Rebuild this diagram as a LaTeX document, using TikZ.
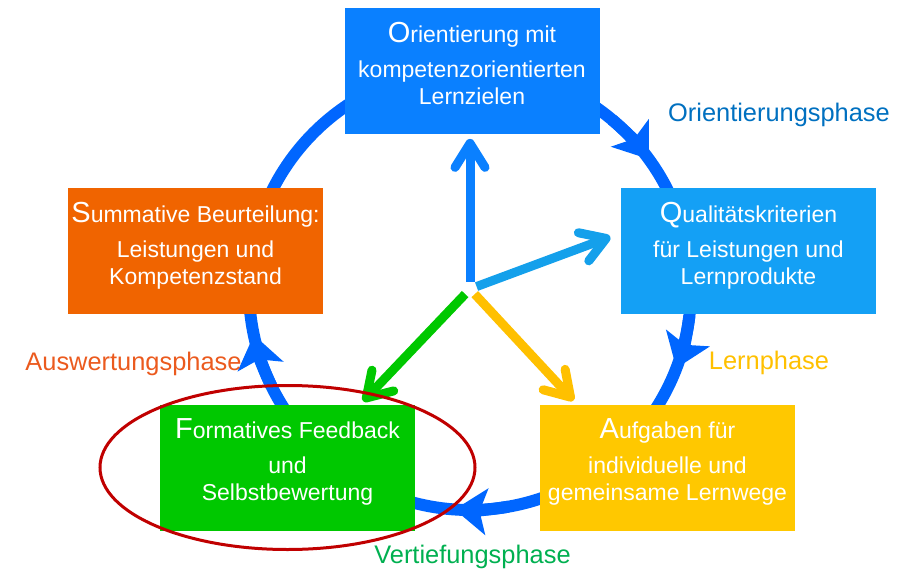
\documentclass[tikz,border=0pt]{standalone}
\usepackage{fontspec}
\setmainfont{Liberation Sans}
\usetikzlibrary{arrows.meta}
\definecolor{ringblue}{RGB}{0,102,255}
\definecolor{oblue}{RGB}{10,128,255}
\definecolor{qblue}{RGB}{20,160,245}
\definecolor{sorange}{RGB}{240,100,0}
\definecolor{ayellow}{RGB}{255,200,0}
\definecolor{fgreen}{RGB}{0,200,0}
\definecolor{spyellow}{RGB}{255,192,0}
\definecolor{spblue}{RGB}{20,160,235}
\definecolor{hired}{RGB}{192,0,0}
\definecolor{txblue}{RGB}{0,112,192}
\definecolor{txgreen}{RGB}{0,176,80}
\definecolor{txorange}{RGB}{235,90,30}
\newcommand{\bigfirst}[1]{{\fontsize{14.5}{14.5}\selectfont #1}}
\tikzset{%
  box/.style = {rectangle,fill=#1,text=white,align=center,
        minimum width=127.5pt,minimum height=63pt,inner sep=0pt,
        text depth=8pt,font=\fontsize{11.5}{13.5}\selectfont},
  ring/.style = {draw=ringblue,line width=6pt},
  ringtip/.style = {-{Stealth[length=16pt,width=23pt,inset=3.5pt]}},
  spoke/.style = {draw=#1,line width=4.5pt,
        -{Straight Barb[length=12pt,width=15pt,round]},
        shorten <=3.5pt},
  phase/.style = {text=#1,anchor=base,inner sep=0pt,
        font=\fontsize{12.7}{15}\selectfont},
  hilite/.style = {draw=hired,line width=1.5pt}
}

\begin{document}
\begin{tikzpicture}[x=0.5pt,y=0.5pt]
\useasboundingbox (0,0) rectangle (913,573);
\coordinate (hub) at (470,284);
\draw[ring] (hub) circle[radius=221];
\draw[ring,ringtip] (hub) ++(50:221) arc[start angle=50,end angle=36,radius=221];
\draw[ring,ringtip] (hub) ++(-7:221) arc[start angle=-7,end angle=-21,radius=221];
\draw[ring,ringtip] (hub) ++(-80:221) arc[start angle=-80,end angle=-94,radius=221];
\draw[ring,ringtip] (hub) ++(206:221) arc[start angle=206,end angle=192,radius=221];

\node[box=oblue] (orient) at (472,501.5)
    {\bigfirst{O}rientierung mit\\[4pt]kompetenzorientierten\\Lernzielen};
\node[box=qblue] (qual) at (748.5,322)
    {\bigfirst{Q}ualitätskriterien\\[4pt]für Leistungen und\\Lernprodukte};
\node[box=sorange] (summ) at (195.5,322)
    {\bigfirst{S}ummative Beurteilung:\\[4pt]Leistungen und\\Kompetenzstand};
\node[box=ayellow] (aufg) at (667.5,105.5)
    {\bigfirst{A}ufgaben für\\[4pt]individuelle und\\gemeinsame Lernwege};
\node[box=fgreen] (form) at (287.5,105.5)
    {\bigfirst{F}ormatives Feedback\\[4pt]und\\Selbstbewertung};

\draw[spoke=oblue,shorten >=2pt] (hub) -- (hub |- orient.south);
\draw[spoke=spblue,shorten >=5.5pt] (hub) -- (qual.172);
\draw[spoke=fgreen,shorten >=2pt] (hub) -- (form.41);
\draw[spoke=spyellow,shorten >=2.5pt] (hub) -- (aufg.145);

\draw[hilite] (form.center) ellipse[x radius=187.5,y radius=82];

\node[phase=txblue] (p1) at (779,451.5) {Orientierungsphase};
\node[phase=spyellow] (p2) at (769,204) {Lernphase};
\node[phase=txgreen] (p3) at (472.5,10) {Vertiefungsphase};
\node[phase=txorange] (p4) at (133.5,203) {Auswertungsphase};
\end{tikzpicture}
\end{document}
